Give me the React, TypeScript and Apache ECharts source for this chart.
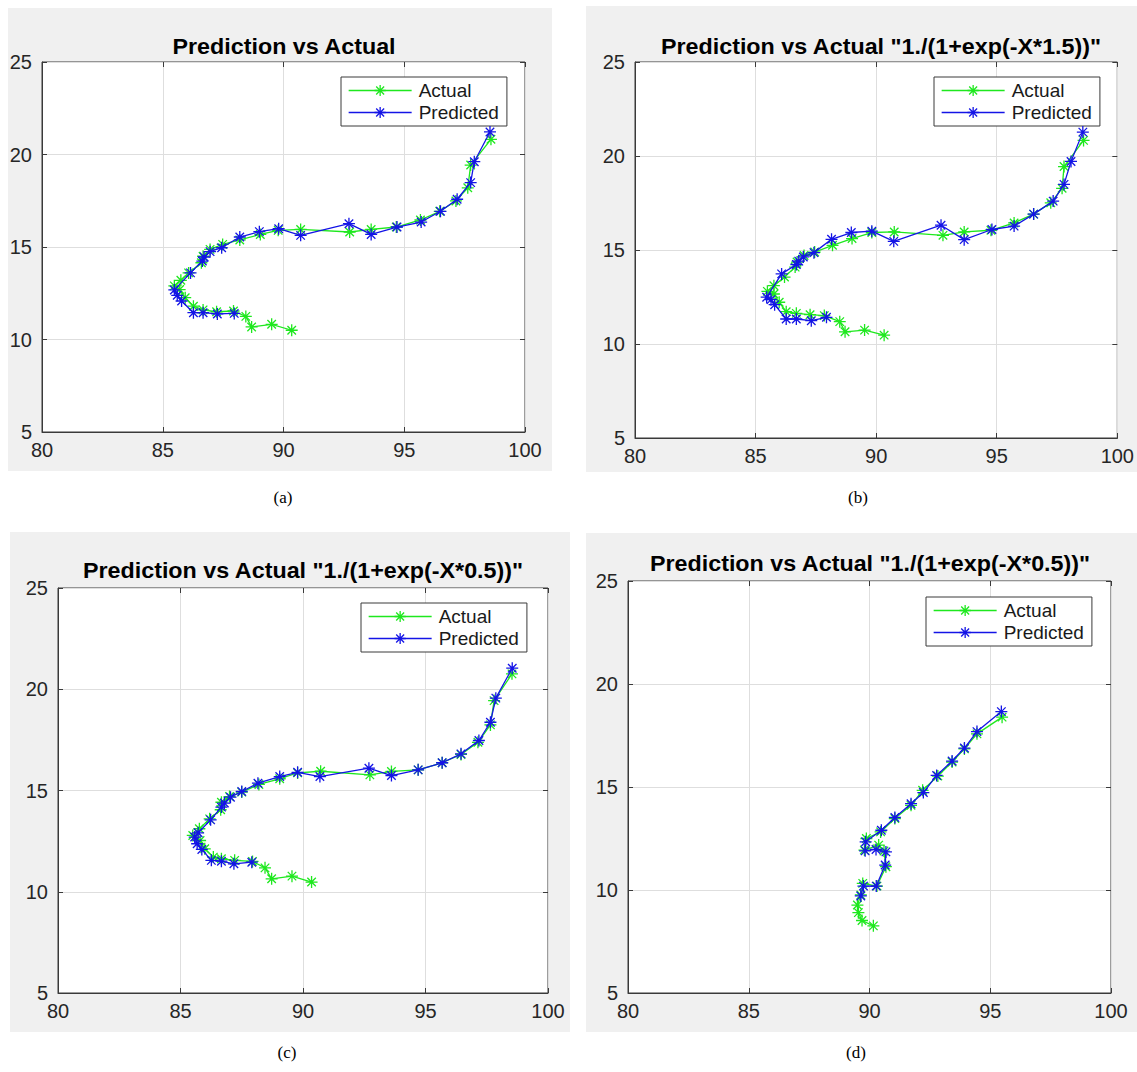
import React, { useEffect, useRef } from "react";
import * as echarts from "echarts";

// ---------- data ----------
const xTicks = [80, 85, 90, 95, 100];
const yTicks = [5, 10, 15, 20, 25];
const seriesNames = ["Actual", "Predicted"];
const titles = [
  "Prediction vs Actual",
  'Prediction vs Actual "1./(1+exp(-X*1.5))"',
  'Prediction vs Actual "1./(1+exp(-X*0.5))"',
  'Prediction vs Actual "1./(1+exp(-X*0.5))"',
];
const captions = ["(a)", "(b)", "(c)", "(d)"];

const actualA = [
  [90.34, 10.5], [89.51, 10.82], [88.68, 10.68], [88.44, 11.25], [87.93, 11.54],
  [87.23, 11.5], [86.67, 11.6], [86.27, 11.8], [85.93, 12.26], [85.7, 12.7],
  [85.48, 12.9], [85.75, 13.2], [86.07, 13.6], [86.6, 14.15], [86.67, 14.5],
  [86.96, 14.87], [87.48, 15.14], [88.19, 15.38], [89.04, 15.68], [89.78, 15.9],
  [90.71, 15.95], [92.74, 15.81], [93.63, 15.95], [94.67, 16.08], [95.67, 16.46],
  [96.47, 16.93], [97.14, 17.49], [97.63, 18.2], [97.75, 19.43], [98.59, 20.82],
];
const predictedA = [
  [87.96, 11.41], [87.26, 11.38], [86.67, 11.45], [86.27, 11.45], [85.78, 12.08],
  [85.6, 12.39], [85.48, 12.68], [86.15, 13.6], [86.64, 14.24], [86.71, 14.46],
  [86.96, 14.75], [87.44, 14.96], [88.19, 15.54], [89.0, 15.83], [89.8, 15.99],
  [90.71, 15.63], [92.71, 16.26], [93.63, 15.68], [94.7, 16.08], [95.7, 16.35],
  [96.5, 16.93], [97.19, 17.58], [97.75, 18.48], [97.9, 19.61], [98.55, 21.22],
];

const actualB = [
  [90.33, 10.47], [89.52, 10.74], [88.71, 10.65], [88.49, 11.19], [87.85, 11.51],
  [87.26, 11.56], [86.69, 11.63], [86.27, 11.72], [85.98, 12.22], [85.76, 12.66],
  [85.49, 12.8], [85.76, 13.1], [86.2, 13.56], [86.64, 14.09], [86.72, 14.36],
  [87.01, 14.71], [87.45, 14.89], [88.19, 15.25], [89.0, 15.61], [89.82, 15.93],
  [90.75, 15.96], [92.77, 15.78], [93.65, 15.96], [94.76, 16.05], [95.72, 16.44],
  [96.53, 16.91], [97.24, 17.51], [97.71, 18.28], [97.79, 19.44], [98.6, 20.83],
];
const predictedB = [
  [87.94, 11.42], [87.31, 11.24], [86.69, 11.33], [86.27, 11.33], [85.79, 12.09],
  [85.64, 12.36], [85.46, 12.49], [86.08, 13.73], [86.69, 14.23], [86.79, 14.41],
  [86.98, 14.63], [87.42, 14.86], [88.15, 15.57], [88.97, 15.93], [89.82, 16.0],
  [90.73, 15.46], [92.69, 16.32], [93.65, 15.55], [94.8, 16.09], [95.72, 16.27],
  [96.53, 16.91], [97.34, 17.6], [97.79, 18.49], [98.08, 19.71], [98.57, 21.27],
];

const actualC = [
  [90.35, 10.48], [89.55, 10.77], [88.72, 10.64], [88.45, 11.18], [87.94, 11.5],
  [87.21, 11.55], [86.67, 11.63], [86.34, 11.71], [85.99, 12.12], [85.8, 12.53],
  [85.5, 12.78], [85.77, 13.11], [86.19, 13.6], [86.64, 14.05], [86.67, 14.42],
  [87.0, 14.7], [87.5, 14.92], [88.2, 15.3], [89.05, 15.58], [89.78, 15.87],
  [90.72, 15.95], [92.73, 15.77], [93.61, 15.94], [94.7, 16.02], [95.68, 16.37],
  [96.45, 16.78], [97.14, 17.38], [97.65, 18.24], [97.8, 19.44], [98.53, 20.76],
];
const predictedC = [
  [87.91, 11.46], [87.18, 11.38], [86.67, 11.51], [86.26, 11.55], [85.87, 12.09],
  [85.68, 12.37], [85.58, 12.7], [85.72, 12.91], [86.23, 13.55], [86.67, 14.18],
  [86.79, 14.38], [87.04, 14.67], [87.5, 14.95], [88.16, 15.36], [89.05, 15.69],
  [89.78, 15.9], [90.69, 15.69], [92.69, 16.1], [93.61, 15.74], [94.7, 16.02],
  [95.68, 16.37], [96.45, 16.81], [97.18, 17.47], [97.65, 18.37], [97.87, 19.56],
  [98.54, 21.04],
];

const actualD = [
  [90.16, 8.26], [89.69, 8.52], [89.54, 8.9], [89.5, 9.27], [89.64, 9.76],
  [89.72, 10.32], [90.31, 10.19], [90.68, 11.13], [90.6, 11.89], [90.38, 12.18],
  [89.79, 11.94], [89.87, 12.5], [90.46, 12.82], [91.05, 13.47], [91.72, 14.11],
  [92.2, 14.84], [92.83, 15.53], [93.42, 16.21], [93.93, 16.85], [94.45, 17.58],
  [95.49, 18.39],
];
const predictedD = [
  [89.64, 9.71], [89.75, 10.19], [90.28, 10.19], [90.65, 11.21], [90.68, 11.85],
  [90.27, 11.97], [89.82, 11.9], [89.84, 12.34], [90.49, 12.9], [91.05, 13.52],
  [91.72, 14.19], [92.23, 14.73], [92.78, 15.56], [93.42, 16.26], [93.93, 16.89],
  [94.45, 17.69], [95.46, 18.66],
];

const actualSets = [actualA, actualB, actualC, actualD];
const predictedSets = [predictedA, predictedB, predictedC, predictedD];

// ---------- layout / style ----------
const W = 1137;
const H = 1072;
const GREEN = "#1ee81e";
const BLUE = "#1414e6";
const AXIS = "#3a3a3a";
const STAR = "path://M5 0L5 10M0 5L10 5M1.46 1.46L8.54 8.54M8.54 1.46L1.46 8.54";

const panels = [
  { bg: [8, 8, 544, 463], grid: [42, 62, 483, 370], title: [284, 46], legend: [341, 77], caption: [283, 497] },
  { bg: [586, 6, 551, 466], grid: [635, 62, 492, 376], title: [881, 46], legend: [934, 77], caption: [858, 497] },
  { bg: [10, 532, 560, 500], grid: [58, 588, 490, 405], title: [303, 570], legend: [361, 603], caption: [287, 1052] },
  { bg: [586, 533, 551, 499], grid: [628, 581, 483, 412], title: [870, 563], legend: [926, 597], caption: [856, 1052] },
];

export default function App() {
  const ref = useRef<HTMLDivElement>(null);

  useEffect(() => {
    document.body.style.margin = "0";
    if (!ref.current) return;
    const chart = echarts.init(ref.current, undefined, { renderer: "svg" });

    const grids: any[] = [];
    const xAxes: any[] = [];
    const yAxes: any[] = [];
    const series: any[] = [];
    const legends: any[] = [];
    const graphics: any[] = [];

    panels.forEach((p, i) => {
      graphics.push({
        type: "rect",
        z: -10,
        silent: true,
        shape: { x: p.bg[0], y: p.bg[1], width: p.bg[2], height: p.bg[3] },
        style: { fill: "#f0f0f0" },
      });
      graphics.push({
        type: "text",
        x: p.title[0],
        y: p.title[1],
        scaleX: 1.06,
        style: {
          text: titles[i],
          font: "bold 22px 'Liberation Sans', Arial, sans-serif",
          fill: "#000",
          textAlign: "center",
          textVerticalAlign: "middle",
        },
      });
      graphics.push({
        type: "text",
        x: p.caption[0],
        y: p.caption[1],
        style: {
          text: captions[i],
          font: "17px 'Liberation Serif', 'Times New Roman', serif",
          fill: "#000",
          textAlign: "center",
          textVerticalAlign: "middle",
        },
      });

      grids.push({
        left: p.grid[0],
        top: p.grid[1],
        width: p.grid[2],
        height: p.grid[3],
        show: true,
        backgroundColor: "#ffffff",
        borderColor: AXIS,
        borderWidth: 1,
        containLabel: false,
      });

      const labelStyle = { color: "#262626", fontSize: 20, fontFamily: "'Liberation Sans', Arial, sans-serif" };
      xAxes.push({
        gridIndex: i,
        type: "value",
        min: xTicks[0],
        max: xTicks[xTicks.length - 1],
        interval: xTicks[1] - xTicks[0],
        axisLine: { show: true, lineStyle: { color: AXIS, width: 1 } },
        axisTick: { show: true, inside: true, length: 5, lineStyle: { color: AXIS } },
        axisLabel: { ...labelStyle, margin: 8 },
        splitLine: { show: true, lineStyle: { color: "#dedede", width: 1 } },
      });
      xAxes.push({
        gridIndex: i,
        type: "value",
        position: "top",
        min: xTicks[0],
        max: xTicks[xTicks.length - 1],
        interval: xTicks[1] - xTicks[0],
        axisLine: { show: false },
        axisTick: { show: true, inside: true, length: 5, lineStyle: { color: AXIS } },
        axisLabel: { show: false },
        splitLine: { show: false },
      });
      yAxes.push({
        gridIndex: i,
        type: "value",
        min: yTicks[0],
        max: yTicks[yTicks.length - 1],
        interval: yTicks[1] - yTicks[0],
        axisLine: { show: true, lineStyle: { color: AXIS, width: 1 } },
        axisTick: { show: true, inside: true, length: 5, lineStyle: { color: AXIS } },
        axisLabel: { ...labelStyle, margin: 10 },
        splitLine: { show: true, lineStyle: { color: "#dedede", width: 1 } },
      });
      yAxes.push({
        gridIndex: i,
        type: "value",
        position: "right",
        min: yTicks[0],
        max: yTicks[yTicks.length - 1],
        interval: yTicks[1] - yTicks[0],
        axisLine: { show: false },
        axisTick: { show: true, inside: true, length: 5, lineStyle: { color: AXIS } },
        axisLabel: { show: false },
        splitLine: { show: false },
      });

      const mk = (name: string, data: number[][], color: string, z: number) => ({
        name,
        type: "line",
        xAxisIndex: i * 2,
        yAxisIndex: i * 2,
        data,
        symbol: STAR,
        symbolSize: 12,
        showAllSymbol: true,
        z,
        lineStyle: { color, width: 1.3 },
        itemStyle: { color, borderColor: color, borderWidth: 1.3 },
        emphasis: { disabled: true },
      });
      series.push(mk(seriesNames[0], actualSets[i], GREEN, 3));
      series.push(mk(seriesNames[1], predictedSets[i], BLUE, 4));

      legends.push({
        left: p.legend[0],
        top: p.legend[1],
        orient: "vertical",
        data: seriesNames,
        selectedMode: false,
        backgroundColor: "#ffffff",
        borderColor: AXIS,
        borderWidth: 1,
        borderRadius: 0,
        padding: [4, 8, 4, 7],
        itemGap: 3,
        itemWidth: 63,
        itemHeight: 14,
        lineStyle: { width: 1.3 },
        itemStyle: { borderWidth: 1.3 },
        textStyle: { color: "#1a1a1a", fontSize: 19, fontFamily: "'Liberation Sans', Arial, sans-serif", padding: [0, 0, 0, 2] },
      });
    });

    chart.setOption({
      animation: false,
      backgroundColor: "#ffffff",
      grid: grids,
      xAxis: xAxes,
      yAxis: yAxes,
      legend: legends,
      series,
      graphic: graphics,
    });

    return () => chart.dispose();
  }, []);

  return <div ref={ref} style={{ width: W, height: H }} />;
}
